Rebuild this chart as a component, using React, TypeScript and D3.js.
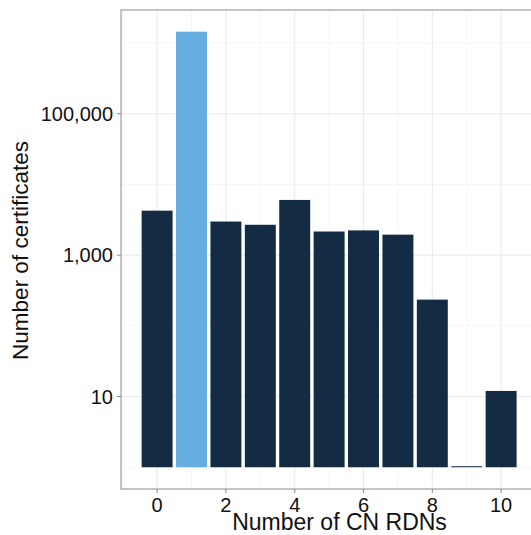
import React from "react";
import * as d3 from "d3";

const categories = [0, 1, 2, 3, 4, 5, 6, 7, 8, 9, 10];
const counts = [4260, 1450000, 2990, 2690, 6040, 2160, 2240, 1950, 235, 1, 12];
const highlighted = [false, true, false, false, false, false, false, false, false, false, false];
const xTicks = [0, 2, 4, 6, 8, 10];
const xMinor = [-1, 1, 3, 5, 7, 9, 11];
const yTicks = [10, 1000, 100000];
const yTickLabels = ["10", "1,000", "100,000"];
const yMinor = [1, 100, 10000, 1000000];

const W = 531;
const H = 535;
const left = 121;
const top = 10;
const bottom = 489;
const unit = 34.4;
const font = "'Liberation Sans', Arial, Helvetica, sans-serif";

export default function App() {
  const x = d3.scaleLinear().domain([-1.05, 11]).range([left, left + 12.05 * unit]);
  const right = x(11);
  const y = d3
    .scaleLog()
    .domain([Math.pow(10, -0.308), Math.pow(10, 6.468)])
    .range([bottom, top]);
  const barW = x(0.45) - x(-0.45);
  const base = y(1);

  return (
    <svg width={W} height={H} style={{ position: "absolute", left: 0, top: 0 }}>
      <rect x={0} y={0} width={W} height={H} fill="#fff" />
      {yMinor.map((v) => (
        <line key={"ym" + v} x1={left} x2={right} y1={y(v)} y2={y(v)} stroke="#f6f6f6" strokeWidth={1} />
      ))}
      {xMinor.map((v) => (
        <line key={"xm" + v} x1={x(v)} x2={x(v)} y1={top} y2={bottom} stroke="#f6f6f6" strokeWidth={1} />
      ))}
      {yTicks.map((v) => (
        <line key={"yM" + v} x1={left} x2={right} y1={y(v)} y2={y(v)} stroke="#ebebeb" strokeWidth={1.1} />
      ))}
      {xTicks.map((v) => (
        <line key={"xM" + v} x1={x(v)} x2={x(v)} y1={top} y2={bottom} stroke="#ebebeb" strokeWidth={1.1} />
      ))}
      {categories.map((c, i) => {
        const yt = y(counts[i]);
        const h = Math.max(base - yt, 1);
        return (
          <rect
            key={"b" + c}
            x={x(c) - barW / 2}
            y={base - h}
            width={barW}
            height={h}
            fill={highlighted[i] ? "#66aee2" : "#132b43"}
          />
        );
      })}
      <rect x={left} y={top} width={right - left} height={bottom - top} fill="none" stroke="#8a8a8a" strokeWidth={1} />
      {yTicks.map((v, i) => (
        <g key={"yt" + v}>
          <line x1={left - 4} x2={left} y1={y(v)} y2={y(v)} stroke="#8a8a8a" strokeWidth={1} />
          <text x={left - 8} y={y(v)} dy="0.36em" textAnchor="end" fontSize={20} fontFamily={font} fill="#111">
            {yTickLabels[i]}
          </text>
        </g>
      ))}
      {xTicks.map((v) => (
        <g key={"xt" + v}>
          <line x1={x(v)} x2={x(v)} y1={bottom} y2={bottom + 4} stroke="#8a8a8a" strokeWidth={1} />
          <text x={x(v)} y={511.5} textAnchor="middle" fontSize={20} fontFamily={font} fill="#111">
            {v}
          </text>
        </g>
      ))}
      <text x={339.5} y={529.5} textAnchor="middle" fontSize={23} fontFamily={font} fill="#111">
        Number of CN RDNs
      </text>
      <text
        transform={`translate(27.5, 250.5) rotate(-90)`}
        textAnchor="middle"
        fontSize={22.5}
        fontFamily={font}
        fill="#111"
      >
        Number of certificates
      </text>
    </svg>
  );
}
